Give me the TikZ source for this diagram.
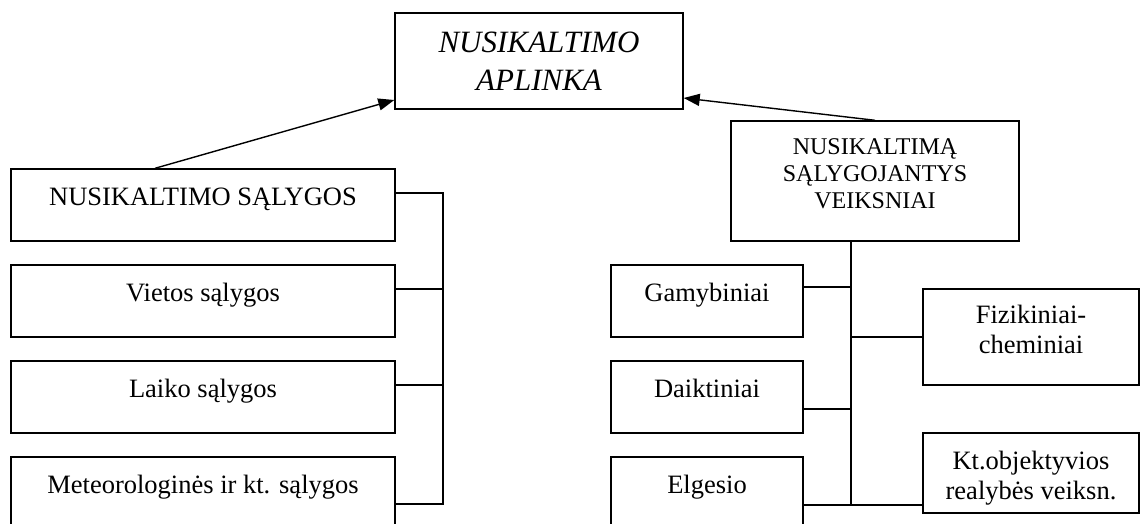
\documentclass[tikz,border=0pt]{standalone}
\usepackage{fontspec}
\setmainfont{Liberation Serif}
\usetikzlibrary{arrows.meta}

\begin{document}
\begin{tikzpicture}[x=1pt,y=-1pt,line width=1.4pt,
  box/.style={draw,inner sep=0pt,align=center,text height=0pt,text depth=0pt,
    font=\fontsize{26.5pt}{30pt}\selectfont},
  wide/.style={box,minimum width=384pt,minimum height=72pt},
  small/.style={box,minimum width=192pt,minimum height=72pt},
  side/.style={box,minimum width=216pt},
  arr/.style={-{Triangle[length=16pt,width=12pt]}}]

\clip (0,0) rectangle (1141,524);

\node[box,minimum width=288pt,minimum height=96pt,text height=60pt,
  font=\fontsize{31pt}{38pt}\itshape] (apl) at (539,61) {NUSIKALTIMO\\APLINKA};

\node[wide] (sal) at (203,205) {NUSIKALTIMO SĄLYGOS};
\node[wide] (viet) at (203,301) {Vietos sąlygos};
\node[wide] (laik) at (203,397) {Laiko sąlygos};
\node[wide] (met) at (203,493) {Meteorologinės ir kt. sąlygos};

\node[box,minimum width=288pt,minimum height=120pt,text height=54pt,
  font=\fontsize{24pt}{27pt}\selectfont] (veik) at (875,181) {NUSIKALTIMĄ\\SĄLYGOJANTYS\\VEIKSNIAI};

\node[small] (gam) at (707,301) {Gamybiniai};
\node[small] (daik) at (707,397) {Daiktiniai};
\node[small] (elg) at (707,493) {Elgesio};

\node[side,minimum height=96pt,text height=32pt] (fiz) at (1031,337) {Fizikiniai-\\cheminiai};
\node[side,minimum height=80pt,text height=52pt] (kt) at (1031,473) {Kt.objektyvios\\realybės veiksn.};

\draw[arr] ([xshift=-48pt]sal.north) -- ([yshift=-39pt]apl.west);
\draw[arr] (veik.north) -- ([yshift=-37pt]apl.east);

\coordinate (brk) at (443,193);
\path ([yshift=12pt]sal.east) coordinate (salc)
  ([yshift=12pt]viet.east) coordinate (vietc)
  ([yshift=12pt]laik.east) coordinate (laikc)
  ([yshift=-11pt]met.east) coordinate (metc);

\draw (salc) -- (salc -| brk) -- (metc -| brk) -- (metc);
\draw (vietc) -- (vietc -| brk);
\draw (laikc) -- (laikc -| brk);

\coordinate (trunk) at ([xshift=-24pt]veik.south);
\path ([yshift=14pt]gam.east) coordinate (gamc)
  ([yshift=-12pt]daik.east) coordinate (daikc)
  ([yshift=-12pt]elg.east) coordinate (elgc);

\draw (trunk) -- (elgc -| trunk);
\draw (gamc) -- (gamc -| trunk);
\draw (daikc) -- (daikc -| trunk);
\draw (elgc) -- (elgc -| kt.west);
\draw (fiz.west) -- (fiz.west -| trunk);

\end{tikzpicture}
\end{document}
